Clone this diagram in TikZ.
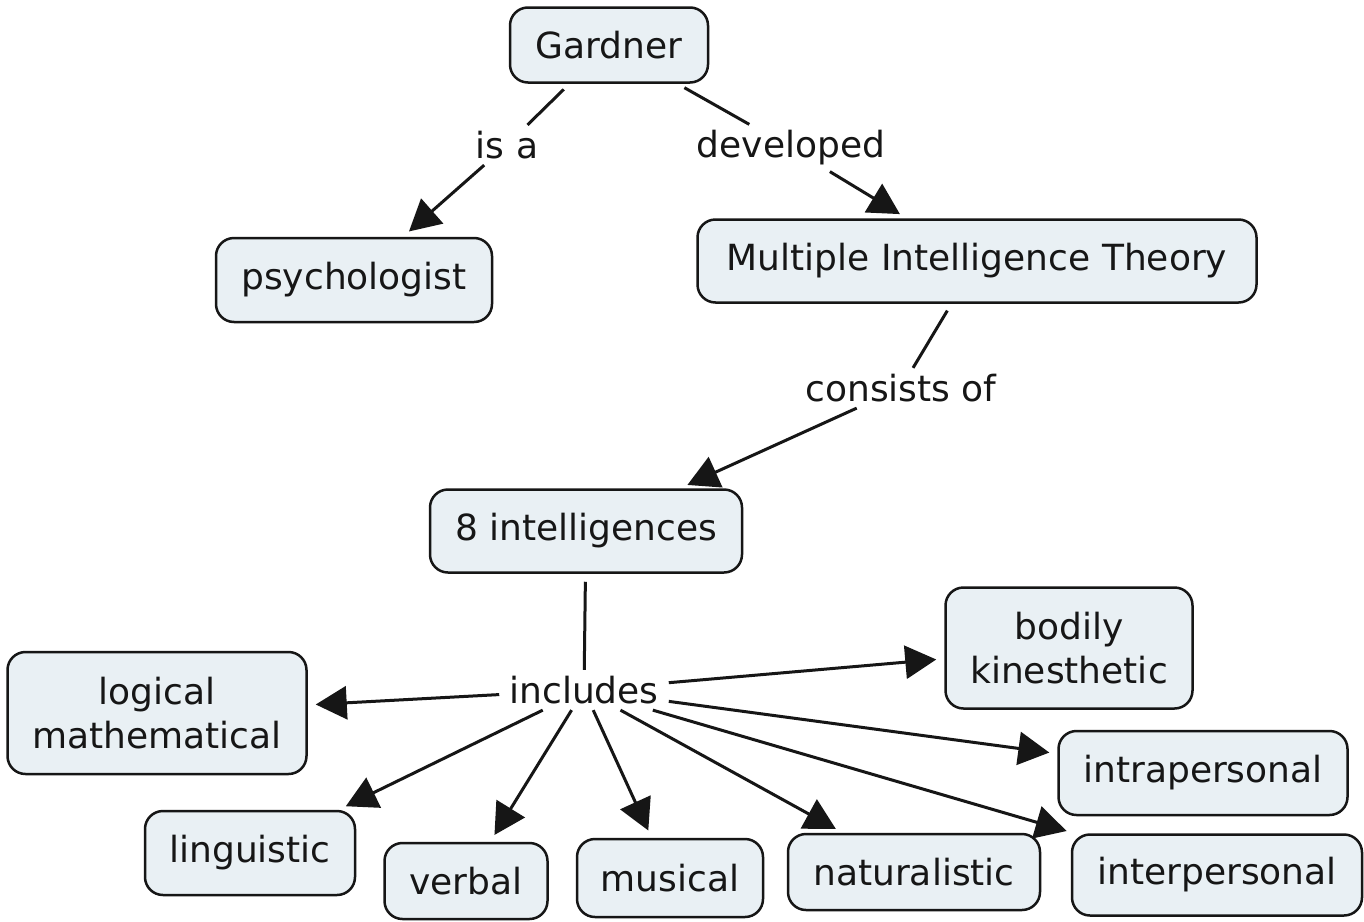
\documentclass[tikz,border=0pt]{standalone}
\usepackage{fontspec}
\setmainfont{DejaVu Sans}
\usetikzlibrary{arrows.meta}
\definecolor{conceptfill}{RGB}{233,240,244}
\definecolor{ink}{RGB}{22,22,22}
\begin{document}
\begin{tikzpicture}[x=1pt,y=-1pt,
  concept/.style={draw=ink, fill=conceptfill, line width=2.5pt, rounded corners=18pt,
    text=ink, font=\fontsize{36}{44}\selectfont, align=center, inner sep=0pt},
  linkword/.style={text=ink, font=\fontsize{36}{44}\selectfont, inner xsep=10pt, inner ysep=6pt},
  link/.style={draw=ink, line width=3pt, shorten <=8pt},
  arrowlink/.style={draw=ink, line width=3pt, -{Triangle[length=31pt,width=33pt]}, shorten >=8pt}
]
\useasboundingbox (0,0) rectangle (1364,921);
\fill[white] (0,0) rectangle (1364,921);

% concepts
\node[concept, minimum width=198pt, minimum height=75pt] (gardner) at (609,45) {Gardner};
\node[concept, minimum width=276pt, minimum height=84pt] (psych) at (354,280) {psychologist};
\node[concept, minimum width=559pt, minimum height=83pt] (mit) at (977,261) {Multiple Intelligence Theory};
\node[concept, minimum width=312pt, minimum height=83pt] (eight) at (586,531) {8 intelligences};
\node[concept, minimum width=299pt, minimum height=122pt] (logical) at (157,713) {logical\\mathematical};
\node[concept, minimum width=247pt, minimum height=121pt] (bodily) at (1069,648) {bodily\\kinesthetic};
\node[concept, minimum width=289pt, minimum height=84pt] (intra) at (1203,773) {intrapersonal};
\node[concept, minimum width=210pt, minimum height=84pt] (ling) at (250,853) {linguistic};
\node[concept, minimum width=163pt, minimum height=76pt] (verbal) at (466,881) {verbal};
\node[concept, minimum width=186pt, minimum height=78pt] (musical) at (670,878) {musical};
\node[concept, minimum width=252pt, minimum height=76pt] (natural) at (914,872) {naturalistic};
\node[concept, minimum width=290pt, minimum height=81pt] (inter) at (1217,875) {interpersonal};

% linking phrases
\node[linkword] (isa) at (507,145) {is a};
\node[linkword] (developed) at (791,148) {developed};
\node[linkword] (consists) at (901,388) {consists of};
\node[linkword] (includes) at (584,690) {includes};

% connectors
\draw[link] (gardner) -- (isa);
\draw[arrowlink] (isa) -- (psych);
\draw[link] (gardner) -- (developed);
\draw[arrowlink] (developed) -- (mit);
\draw[link] (mit) -- (consists);
\draw[arrowlink] (consists) -- (eight);
\draw[link] (eight) -- (includes);
\foreach \t in {logical,bodily,intra,inter,natural,musical,verbal,ling}
  \draw[arrowlink] (includes) -- (\t);
\end{tikzpicture}
\end{document}
